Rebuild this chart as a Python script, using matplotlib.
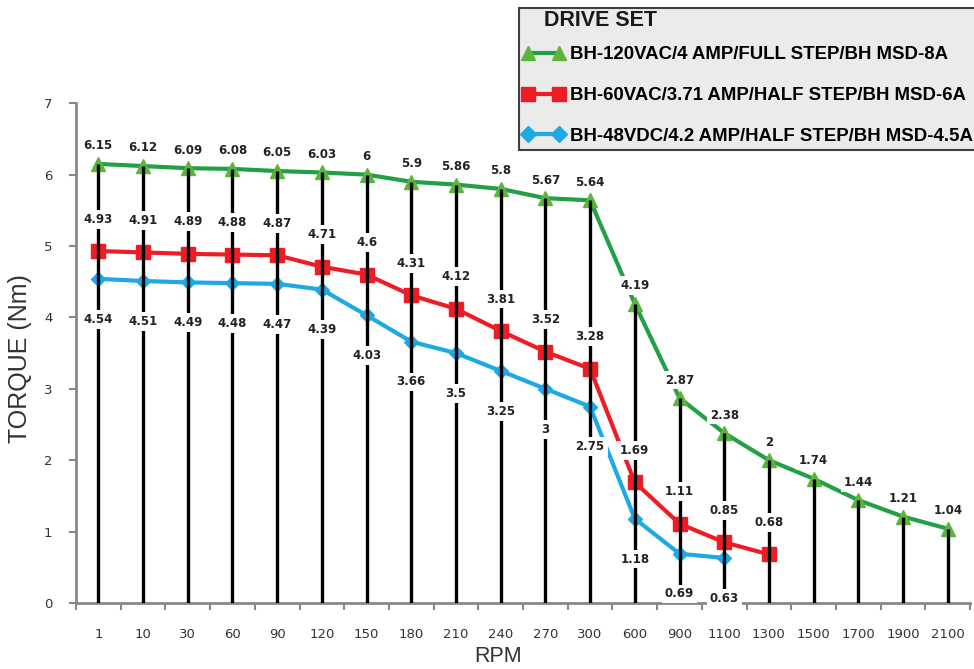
import matplotlib
matplotlib.use("Agg")
import matplotlib.pyplot as plt
from matplotlib.lines import Line2D
from matplotlib.patches import Rectangle
import numpy as np

rpm = ["1", "10", "30", "60", "90", "120", "150", "180", "210", "240", "270", "300",
       "600", "900", "1100", "1300", "1500", "1700", "1900", "2100"]
msd8a = [6.15, 6.12, 6.09, 6.08, 6.05, 6.03, 6, 5.9, 5.86, 5.8, 5.67, 5.64,
         4.19, 2.87, 2.38, 2, 1.74, 1.44, 1.21, 1.04]
msd6a = [4.93, 4.91, 4.89, 4.88, 4.87, 4.71, 4.6, 4.31, 4.12, 3.81, 3.52, 3.28,
         1.69, 1.11, 0.85, 0.68]
msd45a = [4.54, 4.51, 4.49, 4.48, 4.47, 4.39, 4.03, 3.66, 3.5, 3.25, 3, 2.75,
          1.18, 0.69, 0.63]
names = ["BH-120VAC/4 AMP/FULL STEP/BH MSD-8A",
         "BH-60VAC/3.71 AMP/HALF STEP/BH MSD-6A",
         "BH-48VDC/4.2 AMP/HALF STEP/BH MSD-4.5A"]
legend_title = "DRIVE SET"

fig = plt.figure(figsize=(9.74, 6.69), dpi=100)
ax = fig.add_axes([0.078, 0.0987, 0.918, 0.747])

x = np.arange(len(rpm))
green_line, green_mk = "#22a045", "#5cb53a"
red = "#ee1c25"
blue = "#1ea8e4"

ax.plot(x[:len(msd8a)], msd8a, color=green_line, lw=3, marker="^", ms=10,
        mfc=green_mk, mec=green_mk, zorder=3)
ax.plot(x[:len(msd6a)], msd6a, color=red, lw=3, marker="s", ms=10,
        mfc=red, mec=red, zorder=3)
ax.plot(x[:len(msd45a)], msd45a, color=blue, lw=3, marker="D", ms=7,
        mfc=blue, mec=blue, zorder=3)

# drop lines
tops = np.array(msd8a)
ax.vlines(x[:len(msd8a)], 0, tops, color="black", lw=2.4, zorder=4)

lab_kw = dict(textcoords="offset points", ha="center", va="center",
              fontsize=8.5, fontweight="bold", color="#222222", zorder=6,
              bbox=dict(boxstyle="square,pad=0.25", fc="white", ec="none"))
for xi, v in zip(x, msd8a):
    ax.annotate(f"{v:g}", (xi, v), xytext=(0, 13), **lab_kw)
for xi, v in zip(x, msd6a):
    ax.annotate(f"{v:g}", (xi, v), xytext=(0, 23), **lab_kw)
for xi, v in zip(x, msd45a):
    ax.annotate(f"{v:g}", (xi, v), xytext=(0, -29), **lab_kw)

ax.set_xlim(-0.5, len(rpm) - 0.5)
ax.set_ylim(0, 7)
ax.set_xticks(x)
ax.set_xticklabels(rpm, fontsize=9.5, color="#333333")
ax.set_xticks(np.arange(-0.5, len(rpm), 1), minor=True)
ax.tick_params(axis="x", which="major", length=0, pad=18)
ax.tick_params(axis="x", which="minor", length=5, width=1.5, color="#888888")
ax.set_yticks(range(0, 8))
ax.tick_params(axis="y", length=5, width=1.5, color="#888888", labelsize=9.5,
               labelcolor="#333333", pad=12)

for s in ["top", "right"]:
    ax.spines[s].set_visible(False)
for s in ["left", "bottom"]:
    ax.spines[s].set_color("#888888")
    ax.spines[s].set_linewidth(2)

ax.set_xlabel("RPM", fontsize=15.5, color="#333333", family="Liberation Sans")
ax.xaxis.set_label_coords(0.472, -0.086)
ax.set_ylabel("TORQUE (Nm)", fontsize=18, color="#333333", family="Liberation Sans")
ax.yaxis.set_label_coords(-0.049, 0.49)

# legend box
fig.patches.append(Rectangle((0.533, 0.776), 0.475, 0.212, transform=fig.transFigure,
                             facecolor="#ebebeb", edgecolor="#404040", lw=1.5,
                             zorder=5))
fig.text(0.559, 1 - 20 / 669, legend_title, fontsize=15.5, fontweight="bold",
         family="Liberation Sans", color="#1a1a1a", va="center", ha="left",
         zorder=6)

handles = [
    Line2D([], [], color=green_line, lw=3, marker="^", ms=10, mfc=green_mk, mec=green_mk),
    Line2D([], [], color=red, lw=3, marker="s", ms=10, mfc=red, mec=red),
    Line2D([], [], color=blue, lw=3, marker="D", ms=8, mfc=blue, mec=blue),
]
leg = fig.legend(handles, names, loc="upper left", bbox_to_anchor=(0.536, 0.931),
                 numpoints=2, handlelength=2.3, handletextpad=0.25,
                 borderpad=0, labelspacing=1.28, frameon=False,
                 prop={"weight": "bold", "size": 13.4, "family": "Liberation Sans"},
                 borderaxespad=0)
leg.set_zorder(7)

fig.savefig("out.png", dpi=100)
